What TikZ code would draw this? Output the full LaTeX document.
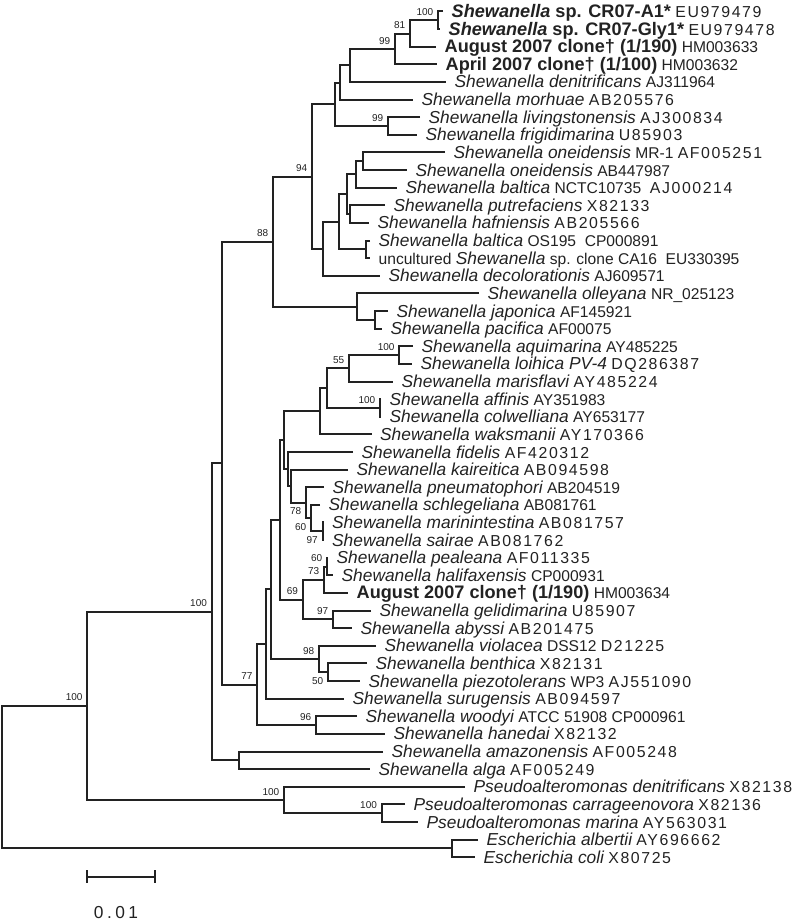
\documentclass[tikz,border=0pt]{standalone}
\usepackage{fontspec}
\setmainfont{Liberation Sans}
\usetikzlibrary{calc}
\definecolor{ink}{HTML}{222222}

\newcommand{\spn}[1]{{\fontsize{13}{14}\selectfont\itshape #1}}
\newcommand{\acc}[1]{{\fontsize{11.9}{14}\selectfont\addfontfeature{LetterSpace=10}#1}}
\newcommand{\clonelab}[1]{{\fontsize{13.6}{15}\selectfont\bfseries #1}}
% bracket that joins two children at depth #2
\newcommand{\joinclade}[4]{%
  \coordinate (#1) at ($(#3)!0.5!(#4)$);
  \coordinate (#1) at (#2,0 |- #1);
  \draw[branch] (#3) -| (#1) |- (#4);}

\begin{document}
\begin{tikzpicture}[x=0.75pt, y=-0.75pt,
    branch/.style={line width=1.5pt, color=ink},
    taxon/.style={anchor=base west, inner sep=0pt, xshift=6.3pt, yshift=-4.5pt, text=ink, font=\fontsize{11.7}{14}\selectfont},
    boot/.style={anchor=base east, inner sep=0pt, xshift=-3.4pt, yshift=3.7pt, text=ink, font=\fontsize{7.5}{8}\selectfont},
    bootlow/.style={anchor=base east, inner sep=0pt, xshift=-3.4pt, yshift=-9pt, text=ink, font=\fontsize{7.5}{8}\selectfont}]
    \useasboundingbox (0,0) rectangle (800,923);

    % Leaf tips
    \foreach \i/\x in {1/443, 2/440, 3/436, 4/437, 5/446, 6/413, 7/420, 8/417, 9/445, 10/407,
        11/397, 12/385, 13/369, 14/370, 15/370, 16/380, 17/479, 18/388, 19/382, 20/413,
        21/412, 22/393, 23/381, 24/381, 25/371.5, 26/353, 27/348, 28/324, 29/320, 30/323.5,
        31/323.5, 32/328, 33/333, 34/348, 35/371, 36/352, 37/376, 38/367, 39/360, 40/344,
        41/357, 42/385, 43/383, 44/370, 45/465, 46/405, 47/418, 48/478, 49/475}
        \coordinate (l\i) at (\x,{11.5+(\i-1)*17.62});

    % Taxa
    \node[taxon] (t1) at (l1) {\clonelab{\textit{Shewanella} sp. CR07-A1*} \acc{EU979479}};
    \node[taxon] (t2) at (l2) {\clonelab{\textit{Shewanella} sp. CR07-Gly1*} \acc{EU979478}};
    \node[taxon] (t3) at (l3) {\clonelab{August 2007 clone† (1/190)} HM003633};
    \node[taxon] (t4) at (l4) {\clonelab{April 2007 clone† (1/100)} HM003632};
    \node[taxon] (t5) at (l5) {\spn{Shewanella denitrificans} AJ311964};
    \node[taxon] (t6) at (l6) {\spn{Shewanella morhuae} \acc{AB205576}};
    \node[taxon] (t7) at (l7) {\spn{Shewanella livingstonensis} \acc{AJ300834}};
    \node[taxon] (t8) at (l8) {\spn{Shewanella frigidimarina} \acc{U85903}};
    \node[taxon] (t9) at (l9) {\spn{Shewanella oneidensis} MR-1 \acc{AF005251}};
    \node[taxon] (t10) at (l10) {\spn{Shewanella oneidensis} AB447987};
    \node[taxon] (t11) at (l11) {\spn{Shewanella baltica} NCTC10735\ \ \acc{AJ000214}};
    \node[taxon] (t12) at (l12) {\spn{Shewanella putrefaciens} \acc{X82133}};
    \node[taxon] (t13) at (l13) {\spn{Shewanella hafniensis} \acc{AB205566}};
    \node[taxon] (t14) at (l14) {\spn{Shewanella baltica} OS195\ \ CP000891};
    \node[taxon] (t15) at (l15) {uncultured \spn{Shewanella} sp. clone CA16\ \ EU330395};
    \node[taxon] (t16) at (l16) {\spn{Shewanella decolorationis} AJ609571};
    \node[taxon] (t17) at (l17) {\spn{Shewanella olleyana} NR\_025123};
    \node[taxon] (t18) at (l18) {\spn{Shewanella japonica} AF145921};
    \node[taxon] (t19) at (l19) {\spn{Shewanella pacifica} AF00075};
    \node[taxon] (t20) at (l20) {\spn{Shewanella aquimarina} AY485225};
    \node[taxon] (t21) at (l21) {\spn{Shewanella loihica PV-4} \acc{DQ286387}};
    \node[taxon] (t22) at (l22) {\spn{Shewanella marisflavi} \acc{AY485224}};
    \node[taxon] (t23) at (l23) {\spn{Shewanella affinis} AY351983};
    \node[taxon] (t24) at (l24) {\spn{Shewanella colwelliana} AY653177};
    \node[taxon] (t25) at (l25) {\spn{Shewanella waksmanii} \acc{AY170366}};
    \node[taxon] (t26) at (l26) {\spn{Shewanella fidelis} \acc{AF420312}};
    \node[taxon] (t27) at (l27) {\spn{Shewanella kaireitica} \acc{AB094598}};
    \node[taxon] (t28) at (l28) {\spn{Shewanella pneumatophori} AB204519};
    \node[taxon] (t29) at (l29) {\spn{Shewanella schlegeliana} AB081761};
    \node[taxon] (t30) at (l30) {\spn{Shewanella marinintestina} \acc{AB081757}};
    \node[taxon] (t31) at (l31) {\spn{Shewanella sairae} \acc{AB081762}};
    \node[taxon] (t32) at (l32) {\spn{Shewanella pealeana} \acc{AF011335}};
    \node[taxon] (t33) at (l33) {\spn{Shewanella halifaxensis} CP000931};
    \node[taxon] (t34) at (l34) {\clonelab{August 2007 clone† (1/190)} HM003634};
    \node[taxon] (t35) at (l35) {\spn{Shewanella gelidimarina} \acc{U85907}};
    \node[taxon] (t36) at (l36) {\spn{Shewanella abyssi} \acc{AB201475}};
    \node[taxon] (t37) at (l37) {\spn{Shewanella violacea} DSS12 \acc{D21225}};
    \node[taxon] (t38) at (l38) {\spn{Shewanella benthica} \acc{X82131}};
    \node[taxon] (t39) at (l39) {\spn{Shewanella piezotolerans} WP3 \acc{AJ551090}};
    \node[taxon] (t40) at (l40) {\spn{Shewanella surugensis} \acc{AB094597}};
    \node[taxon] (t41) at (l41) {\spn{Shewanella woodyi} ATCC 51908 CP000961};
    \node[taxon] (t42) at (l42) {\spn{Shewanella hanedai} \acc{X82132}};
    \node[taxon] (t43) at (l43) {\spn{Shewanella amazonensis} \acc{AF005248}};
    \node[taxon] (t44) at (l44) {\spn{Shewanella alga} \acc{AF005249}};
    \node[taxon] (t45) at (l45) {\spn{Pseudoalteromonas denitrificans} \acc{X82138}};
    \node[taxon] (t46) at (l46) {\spn{Pseudoalteromonas carrageenovora} \acc{X82136}};
    \node[taxon] (t47) at (l47) {\spn{Pseudoalteromonas marina} \acc{AY563031}};
    \node[taxon] (t48) at (l48) {\spn{Escherichia albertii} \acc{AY696662}};
    \node[taxon] (t49) at (l49) {\spn{Escherichia coli} \acc{X80725}};

    % Clades, upper group
    \joinclade{n100a}{438}{l1}{l2}
    \joinclade{n81}{410}{n100a}{l3}
    \joinclade{n99}{395}{n81}{l4}
    \joinclade{nA}{350}{n99}{l5}
    \joinclade{nB}{340}{nA}{l6}
    \joinclade{n99b}{388}{l7}{l8}
    \joinclade{nC}{335}{nB}{n99b}
    \joinclade{nD}{363}{l9}{l10}
    \joinclade{nE}{356}{nD}{l11}
    \joinclade{nF}{350}{l12}{l13}
    \joinclade{nG}{347}{nE}{nF}
    \joinclade{nH}{366}{l14}{l15}
    \joinclade{nI}{339}{nG}{nH}
    \joinclade{nJ}{323}{nI}{l16}
    \joinclade{n94}{312}{nC}{nJ}
    \joinclade{nK}{375}{l18}{l19}
    \joinclade{nL}{357}{l17}{nK}
    \joinclade{n88}{273}{n94}{nL}

    % Clades, lower group
    \joinclade{n100b}{399.3}{l20}{l21}
    \joinclade{n55}{349}{n100b}{l22}
    \joinclade{n100c}{380}{l23}{l24}
    \joinclade{nM}{327}{n55}{n100c}
    \joinclade{nN}{320}{nM}{l25}
    \joinclade{n97a}{322.5}{l30}{l31}
    \joinclade{n60a}{311}{l29}{n97a}
    \joinclade{n78}{306}{l28}{n60a}
    \joinclade{nO}{291}{l27}{n78}
    \joinclade{nP}{287.7}{l26}{nO}
    \joinclade{nQ}{284.3}{nN}{nP}
    \joinclade{n60b}{327}{l32}{l33}
    \joinclade{n73}{324}{n60b}{l34}
    \joinclade{n97b}{333}{l35}{l36}
    \joinclade{n69}{302.7}{n73}{n97b}
    \joinclade{nR}{280}{nQ}{n69}
    \joinclade{n50}{328}{l38}{l39}
    \joinclade{n98}{319}{l37}{n50}
    \joinclade{nS}{270.7}{nR}{n98}
    \joinclade{nT}{266}{nS}{l40}
    \joinclade{n96}{316}{l41}{l42}
    \joinclade{n77}{257.3}{nT}{n96}

    % Deep splits and outgroups
    \joinclade{nU}{221.7}{n88}{n77}
    \joinclade{nV}{239}{l43}{l44}
    \joinclade{n100d}{211.7}{nU}{nV}
    \joinclade{n100e}{381.7}{l46}{l47}
    \joinclade{n100f}{284}{l45}{n100e}
    \joinclade{n100g}{87.3}{n100d}{n100f}
    \joinclade{nW}{451.7}{l48}{l49}
    \joinclade{root}{1.7}{n100g}{nW}

    % Bootstrap values
    \node[boot] (b100a) at (n100a) {100};
    \node[boot] (b81) at (n81) {81};
    \node[boot] (b99) at (n99) {99};
    \node[boot] (b99b) at (n99b) {99};
    \node[boot] (b94) at (n94) {94};
    \node[boot] (b88) at (n88) {88};
    \node[boot] (b100b) at (n100b) {100};
    \node[boot] (b55) at (n55) {55};
    \node[boot] (b100c) at (n100c) {100};
    \node[bootlow] (b78) at (n78) {78};
    \node[bootlow] (b60a) at (n60a) {60};
    \node[bootlow] (b97a) at (n97a) {97};
    \node[boot] (b60b) at (n60b) {60};
    \node[boot] (b73) at (n73) {73};
    \node[boot] (b69) at (n69) {69};
    \node[boot] (b97b) at (n97b) {97};
    \node[boot] (b98) at (n98) {98};
    \node[bootlow] (b50) at (n50) {50};
    \node[boot] (b96) at (n96) {96};
    \node[boot] (b77) at (n77) {77};
    \node[boot] (b100d) at (n100d) {100};
    \node[boot] (b100e) at (n100e) {100};
    \node[boot] (b100f) at (n100f) {100};
    \node[boot] (b100g) at (n100g) {100};

    % Scale bar
    \coordinate (bar0) at (87.3,876.7);
    \coordinate (bar1) at (155,876.7);
    \draw[branch] (bar0) -- (bar1);
    \draw[branch] ($(bar0)+(0,-6.5)$) -- ($(bar0)+(0,6.5)$);
    \draw[branch] ($(bar1)+(0,-6.5)$) -- ($(bar1)+(0,6.5)$);
    \node[anchor=base, inner sep=0pt, text=ink, font=\fontsize{13}{15}\selectfont] (barlab) at (116,918) {\addfontfeature{LetterSpace=20}0.01};
\end{tikzpicture}
\end{document}
